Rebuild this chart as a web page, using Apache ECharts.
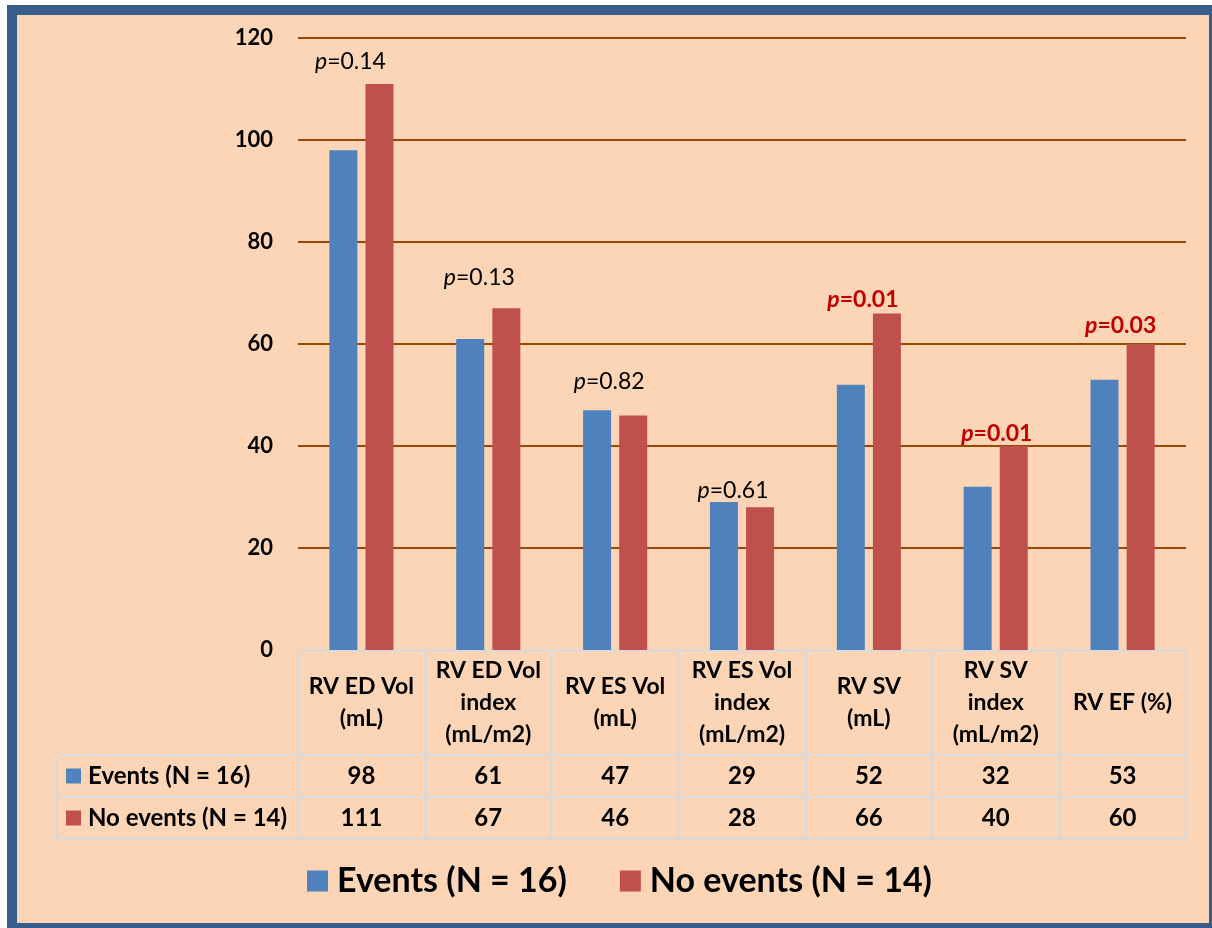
<!DOCTYPE html>
<html>
<head>
<meta charset="utf-8">
<script src="https://cdn.jsdelivr.net/npm/echarts@6/dist/echarts.min.js"></script>
<style>
  html, body { margin: 0; padding: 0; background: #ffffff; }
  #chart { width: 1212px; height: 928px; }
</style>
</head>
<body>
<div id="chart"></div>
<script>
// ---- data ----
const categories = [
  'RV ED Vol\n(mL)',
  'RV ED Vol\nindex\n(mL/m2)',
  'RV ES Vol\n(mL)',
  'RV ES Vol\nindex\n(mL/m2)',
  'RV SV\n(mL)',
  'RV SV\nindex\n(mL/m2)',
  'RV EF (%)'
];
const seriesNames = ['Events (N = 16)', 'No events (N = 14)'];
const eventsValues = [98, 61, 47, 29, 52, 32, 53];
const noEventsValues = [111, 67, 46, 28, 66, 40, 60];
const pValues = [0.14, 0.13, 0.82, 0.61, 0.01, 0.01, 0.03];
const yMin = 0, yMax = 120, yStep = 20;

// ---- layout & style ----
const W = 1212, H = 928;
const GRID = { left: 298, right: 26, top: 38, bottom: 278 };
const HEADER_H = 105;          // category header row of the table
const ROW_H = 42;              // each value row of the table
const TABLE_LEFT = 57;
const FONT = 'Lato, "Open Sans", sans-serif';
const BLUE = '#4F81BD', RED = '#C0504D';
const GRID_LINE = '#984807', TABLE_LINE = '#D9D9D9', SIG_RED = '#C00000';
const BG = '#FBD5B5', FRAME = '#385D8A';

// per-label nudge of the p-value notes, relative to the top centre of the red bar
const pLabelShift = [[-29, -10], [-27, -19], [-24, -22], [-27, -5], [-24, -2], [-17, 0], [-20, -6]];

const axisBottomY = H - GRID.bottom;
const plotRight = W - GRID.right;
const row1Y = axisBottomY + HEADER_H;
const row2Y = row1Y + ROW_H;
const row3Y = row2Y + ROW_H;

const chart = echarts.init(document.getElementById('chart'), null, { renderer: 'canvas' });

function valueRowAxis(values, centerOffset) {
  return {
    type: 'category',
    position: 'bottom',
    data: values.map(String),
    axisLine: { show: false, onZero: false },
    axisTick: { show: false },
    splitLine: { show: false },
    axisLabel: {
      interval: 0,
      margin: centerOffset,
      verticalAlign: 'middle',
      fontFamily: FONT, fontSize: 24, fontWeight: 'bold', color: '#000'
    }
  };
}

const tableLines = [row1Y, row2Y, row3Y].map(y => ({
  type: 'line',
  z: 5,
  shape: { x1: TABLE_LEFT, y1: y, x2: plotRight, y2: y },
  style: { stroke: TABLE_LINE, lineWidth: 2.5 }
}));
tableLines.push({
  type: 'line',
  z: 5,
  shape: { x1: TABLE_LEFT, y1: row1Y, x2: TABLE_LEFT, y2: row3Y },
  style: { stroke: TABLE_LINE, lineWidth: 2.5 }
});

const option = {
  backgroundColor: '#ffffff',
  animation: false,
  textStyle: { fontFamily: FONT },
  graphic: [
    {
      type: 'rect',
      z: -100,
      shape: { x: 12, y: 10, width: 1202, height: 918 },
      style: { fill: BG, stroke: FRAME, lineWidth: 10 }
    }
  ].concat(tableLines),
  legend: [
    {
      data: seriesNames,
      orient: 'vertical',
      left: 66, top: row1Y + ROW_H / 2 - 12,
      padding: 0,
      icon: 'rect',
      itemWidth: 15, itemHeight: 15, itemGap: ROW_H - 24,
      selectedMode: false,
      textStyle: { fontFamily: FONT, fontSize: 24, fontWeight: 'bold', color: '#000', padding: [0, 0, 0, 2] }
    },
    {
      data: seriesNames,
      orient: 'horizontal',
      left: 307, top: 864,
      padding: 0,
      icon: 'rect',
      itemWidth: 21, itemHeight: 21, itemGap: 53,
      selectedMode: false,
      textStyle: { fontFamily: FONT, fontSize: 34, fontWeight: 'bold', color: '#000', lineHeight: 34, padding: [0, 0, 0, 4] }
    }
  ],
  grid: { left: GRID.left, right: GRID.right, top: GRID.top, bottom: GRID.bottom, containLabel: false },
  xAxis: [
    {
      type: 'category',
      position: 'bottom',
      data: categories,
      axisLine: { show: true, lineStyle: { color: TABLE_LINE, width: 2.5 } },
      axisTick: { show: true, length: HEADER_H + 2 * ROW_H + 1, lineStyle: { color: TABLE_LINE, width: 2.5 } },
      axisLabel: {
        interval: 0,
        margin: HEADER_H / 2,
        verticalAlign: 'middle',
        lineHeight: 32,
        fontFamily: FONT, fontSize: 23, fontWeight: 'bold', color: '#000'
      },
      splitLine: { show: false }
    },
    valueRowAxis(eventsValues, HEADER_H + ROW_H / 2),
    valueRowAxis(noEventsValues, HEADER_H + ROW_H * 1.5)
  ],
  yAxis: {
    type: 'value',
    min: yMin, max: yMax, interval: yStep,
    axisLine: { show: false },
    axisTick: { show: false },
    axisLabel: { margin: 25, fontFamily: FONT, fontSize: 22, fontWeight: 'bold', color: '#000' },
    splitLine: { show: true, showMinLine: false, lineStyle: { color: GRID_LINE, width: 2 } }
  },
  series: [
    {
      name: seriesNames[0],
      type: 'bar',
      xAxisIndex: 0,
      data: eventsValues,
      barWidth: 28,
      barGap: '29%',
      itemStyle: { color: BLUE }
    },
    {
      name: seriesNames[1],
      type: 'bar',
      xAxisIndex: 0,
      data: noEventsValues.map((v, i) => ({
        value: v,
        label: { offset: pLabelShift[i] }
      })),
      barWidth: 28,
      itemStyle: { color: RED },
      label: {
        show: true,
        position: 'top',
        distance: 0,
        formatter: p => {
          const txt = pValues[p.dataIndex].toFixed(2);
          return pValues[p.dataIndex] < 0.05 ? '{bi|p}{bn|=' + txt + '}' : '{i|p}{n|=' + txt + '}';
        },
        rich: {
          i:  { fontFamily: FONT, fontSize: 23, fontStyle: 'italic', color: '#000', lineHeight: 24 },
          n:  { fontFamily: FONT, fontSize: 23, color: '#000', lineHeight: 24 },
          bi: { fontFamily: FONT, fontSize: 23, fontStyle: 'italic', fontWeight: 'bold', color: SIG_RED, lineHeight: 24 },
          bn: { fontFamily: FONT, fontSize: 23, fontWeight: 'bold', color: SIG_RED, lineHeight: 24 }
        }
      }
    }
  ]
};

chart.setOption(option);
</script>
</body>
</html>
